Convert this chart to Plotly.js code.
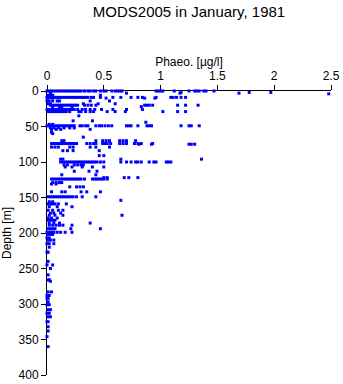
<!DOCTYPE html>
<html>
<head>
<meta charset="utf-8">
<script src="https://cdn.plot.ly/plotly-3.0.1.min.js"></script>
<style>html,body{margin:0;padding:0;background:#fff;}#chart{width:343px;height:384px;}</style>
</head>
<body>
<div id="chart"></div>
<script>
// Depth levels [m] and the Phaeo. values [µg/l] read at each level
const depthLevels = [0, 2, 3, 4, 6, 9, 10, 14, 18, 20, 22, 26, 29, 35, 42, 44, 47, 49, 52, 54, 58, 60, 65, 70, 74, 75, 79, 84, 91, 96, 100, 104, 107, 113, 118, 122, 124, 129, 131, 135, 142, 149, 154, 156, 159, 163, 168, 172, 175, 179, 182, 186, 189, 194, 199, 202, 207, 210, 215, 220, 227, 240, 245, 250, 259, 266, 268, 283, 288, 292, 297, 301, 308, 313, 318, 325, 332, 338, 346, 360];
const phaeoAtLevel = [
  [0,0.02,0.04,0.06,0.08,0.1,0.12,0.14,0.16,0.18,0.2,0.22,0.24,0.26,0.28,0.3,0.33,0.36,0.38,0.41,0.43,0.47,0.5,0.52,0.57,0.6,0.62,0.64,0.66,0.96,0.98,1.0,1.02,1.12,1.25,1.3,1.32,1.34,1.38,1.4,1.47],
  [1.18,1.78,1.97],
  [0.03,0.7,1.17,1.69],
  [2.48],
  [0.01,0.03,0.05,0.47],
  [0,0.02,0.04,0.06,0.08,0.1,0.12,0.14,0.16,0.18,0.2,0.22,0.24,0.26,0.28,0.3,0.32,0.34,0.36,0.39,0.41,0.47,0.58,0.65,0.74,0.8,0.84,0.96,1.09,1.11,1.14,1.18,1.22],
  [0.01,0.05,0.52,0.86,0.95],
  [0,0.02,0.05,0.09,0.11,0.38,0.55],
  [0.01,0.03,0.32,0.45,0.6],
  [0.03,0.05,0.07,0.09,0.11,0.13,0.15,0.17,0.19,0.21,0.23,0.25,0.27,0.33,0.36,0.39,0.43,0.86,0.88,0.9,0.93,1.15,1.22,1.33],
  [0.05,0.11,0.13,0.22,0.83],
  [0,0.02,0.04,0.06,0.08,0.1,0.12,0.14,0.16,0.18,0.2,0.22,0.24,0.27,0.31,0.34,0.38,0.42,0.48,0.58,0.7,0.84],
  [0.01,0.03,0.05,0.07,0.09,0.11,0.13,0.15,0.17,0.2,0.28,0.3,0.34,0.38,0.41,0.53,0.6,0.69,1.02,1.15,1.22],
  [0.28],
  [0.23,0.4],
  [0.87],
  [0.02,0.05],
  [0,0.02,0.04,0.06,0.08,0.1,0.12,0.14,0.16,0.18,0.2,0.22,0.24,0.29,0.31,0.34,0.36,0.43,0.46,0.48,0.51,0.54,0.57,0.7,0.72,0.74,0.8,0.88,0.9,0.92,1.18,1.25,1.27,1.34],
  [0.03,0.06,0.1,0.15,0.2,0.24],
  [0.04,0.08,0.12,0.38],
  [0.04],
  [0.05],
  [0.32],
  [0.13,0.15,0.43,0.49,0.52,0.55,0.64,0.67,0.7,0.78],
  [0.04,0.06,0.08,0.1,0.12,0.14,0.16,0.18,0.2,0.22,0.24,0.26,0.35,0.38,0.41,0.43,0.49,0.51,0.53,0.56,0.64,0.67,0.7,0.77,0.8,0.83,0.93],
  [0.81,0.92,1.25,1.27,1.3],
  [0.04,0.07,0.1,0.2,0.23,0.38,0.43,0.55],
  [0.14,0.18,0.23,0.46],
  [0.46,0.5],
  [0.12,0.14,0.65,1.36],
  [0.12,0.14,0.16,0.18,0.2,0.22,0.24,0.26,0.28,0.3,0.32,0.34,0.36,0.38,0.4,0.42,0.44,0.47,0.5,0.65,0.7,0.74,0.78,0.8,0.83,0.9,0.94,0.96,1.05,1.07,1.09],
  [0.15,0.18,0.24,0.27,0.3,0.32],
  [0.16,0.22,0.31,0.4,0.5],
  [0.24,0.37,0.44],
  [0.13,0.43],
  [0.5,0.53,0.68,0.72,0.8],
  [0.04,0.06,0.08,0.1,0.12,0.14,0.16,0.18,0.2,0.22,0.24,0.26,0.28,0.3,0.33,0.4,0.42,0.44,0.46,0.48,0.5,0.53],
  [0.05,0.08,0.11,0.13],
  [0.04,0.08],
  [0.2,0.26,0.29,0.32],
  [0.04,0.13,0.16,0.3,0.35,0.47],
  [0.01,0.03,0.05,0.07,0.09,0.11,0.13,0.15,0.17,0.19,0.21,0.23,0.26,0.31,0.43],
  [0.65],
  [0.02,0.05],
  [0.01,0.03,0.05,0.07,0.1,0.17],
  [0.02,0.09,0.22],
  [0.01,0.05,0.1,0.14],
  [0.03,0.06,0.12],
  [0.02,0.07,0.14,0.66],
  [0.01,0.04,0.09],
  [0.01,0.03,0.05,0.07],
  [0.02,0.06,0.11,0.38],
  [0.02,0.05,0.08,0.11,0.14,0.22],
  [0.01,0.03,0.05,0.07,0.21,0.47],
  [0,0.02,0.04,0.06,0.09,0.12,0.16,0.22],
  [0.01,0.03,0.05],
  [0,0.02],
  [0.01,0.03,0.06],
  [0,0.02,0.06],
  [0.02],
  [0,0.01],
  [0.01],
  [0,0.05],
  [0.03],
  [0.01],
  [0.01,0.02],
  [0.03],
  [0.01,0.04],
  [0,0.02],
  [0,0.01],
  [0.01],
  [0,0.02],
  [0.01,0.03],
  [0,0.02],
  [0.01,0.03],
  [0,0.01],
  [0.01],
  [0.01],
  [0],
  [0.01]
];
const xTicks = [0, 0.5, 1, 1.5, 2, 2.5];
const xTickText = ['0', '0.5', '1', '1.5', '2', '2.5'];
const yTicks = [0, 50, 100, 150, 200, 250, 300, 350, 400];

const depth = [], phaeo = [];
depthLevels.forEach((d, i) => phaeoAtLevel[i].forEach(v => { depth.push(d); phaeo.push(v); }));

const font = {family: 'Liberation Sans, Arial, sans-serif', color: '#000'};
Plotly.newPlot('chart', [{
  type: 'scatter', mode: 'markers', x: phaeo, y: depth,
  marker: {symbol: 'square', size: 3, color: '#0000ff', line: {width: 0}},
  cliponaxis: false, hoverinfo: 'skip'
}], {
  width: 343, height: 384,
  margin: {l: 47, r: 12, t: 91, b: 9},
  paper_bgcolor: '#fff', plot_bgcolor: '#fff',
  font: Object.assign({size: 12}, font),
  showlegend: false,
  title: {text: 'MODS2005 in January, 1981', font: Object.assign({size: 15}, font),
          x: 0.5, xanchor: 'center', xref: 'paper', y: 0.984, yanchor: 'top', yref: 'container'},
  xaxis: {side: 'top', range: [0, 2.5], tickvals: xTicks, ticktext: xTickText,
          ticks: 'outside', ticklen: 5, tickcolor: '#000', tickwidth: 1,
          showline: true, linecolor: '#000', linewidth: 1, showgrid: false, zeroline: false,
          layer: 'below traces', tickfont: Object.assign({size: 12}, font),
          title: {text: 'Phaeo. [µg/l]', font: Object.assign({size: 12}, font), standoff: 0}},
  yaxis: {range: [400, 0], tickvals: yTicks, ticks: 'outside', ticklen: 5, tickcolor: '#000', tickwidth: 1,
          showline: true, linecolor: '#000', linewidth: 1, showgrid: false, zeroline: false,
          layer: 'below traces', tickfont: Object.assign({size: 12}, font),
          title: {text: 'Depth [m]', font: Object.assign({size: 12}, font), standoff: 6}}
}, {staticPlot: true});
</script>
</body>
</html>
